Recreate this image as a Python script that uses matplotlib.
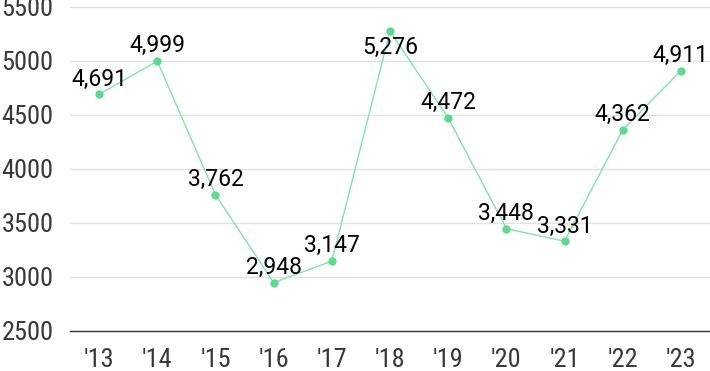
import matplotlib
matplotlib.use("Agg")
import matplotlib.pyplot as plt

years = ["'13", "'14", "'15", "'16", "'17", "'18", "'19", "'20", "'21", "'22", "'23"]
values = [4691, 4999, 3762, 2948, 3147, 5276, 4472, 3448, 3331, 4362, 4911]
label_below = [False, False, False, False, False, True, False, False, False, False, False]
yticks = [2500, 3000, 3500, 4000, 4500, 5000, 5500]

plt.rcParams['font.family'] = ['Roboto', 'DejaVu Sans']

fig = plt.figure(figsize=(7.10, 3.71), dpi=100)
ax = fig.add_axes([70/710, 1-331/371, 1-70/710, (331-7)/371])

x = list(range(len(years)))
ax.plot(x, values, color='#7fe3aa', lw=1.0, zorder=3, clip_on=False)
ax.scatter(x, values, s=36, color='#5fd98e', zorder=4, clip_on=False, linewidths=0)

for xi, v, below in zip(x, values, label_below):
    ax.annotate(f"{v:,}", (xi, v), xytext=(0, -12 if below else 11), textcoords='offset points',
                ha='center', va='center', fontsize=16.5, color='#000000', zorder=5)

ax.set_xlim(-0.5, len(years) - 0.5)
ax.set_ylim(2500, 5500)
ax.set_yticks(yticks)
ax.set_yticklabels([str(t) for t in yticks])
ax.set_xticks(x)
ax.set_xticklabels(years)
ax.tick_params(axis='both', length=0, labelcolor='#383838')
for lab in ax.get_yticklabels() + ax.get_xticklabels():
    lab.set_fontfamily(['Roboto Condensed', 'Roboto', 'DejaVu Sans'])
    lab.set_fontsize(19)
ax.tick_params(axis='y', pad=12)
ax.tick_params(axis='x', pad=12)

ax.grid(axis='y', color='#e2e2e2', lw=1)
ax.set_axisbelow(True)
for s in ['top', 'right', 'left']:
    ax.spines[s].set_visible(False)
ax.spines['bottom'].set_color('#333333')
ax.spines['bottom'].set_linewidth(1)

fig.savefig('out.png', dpi=100)
